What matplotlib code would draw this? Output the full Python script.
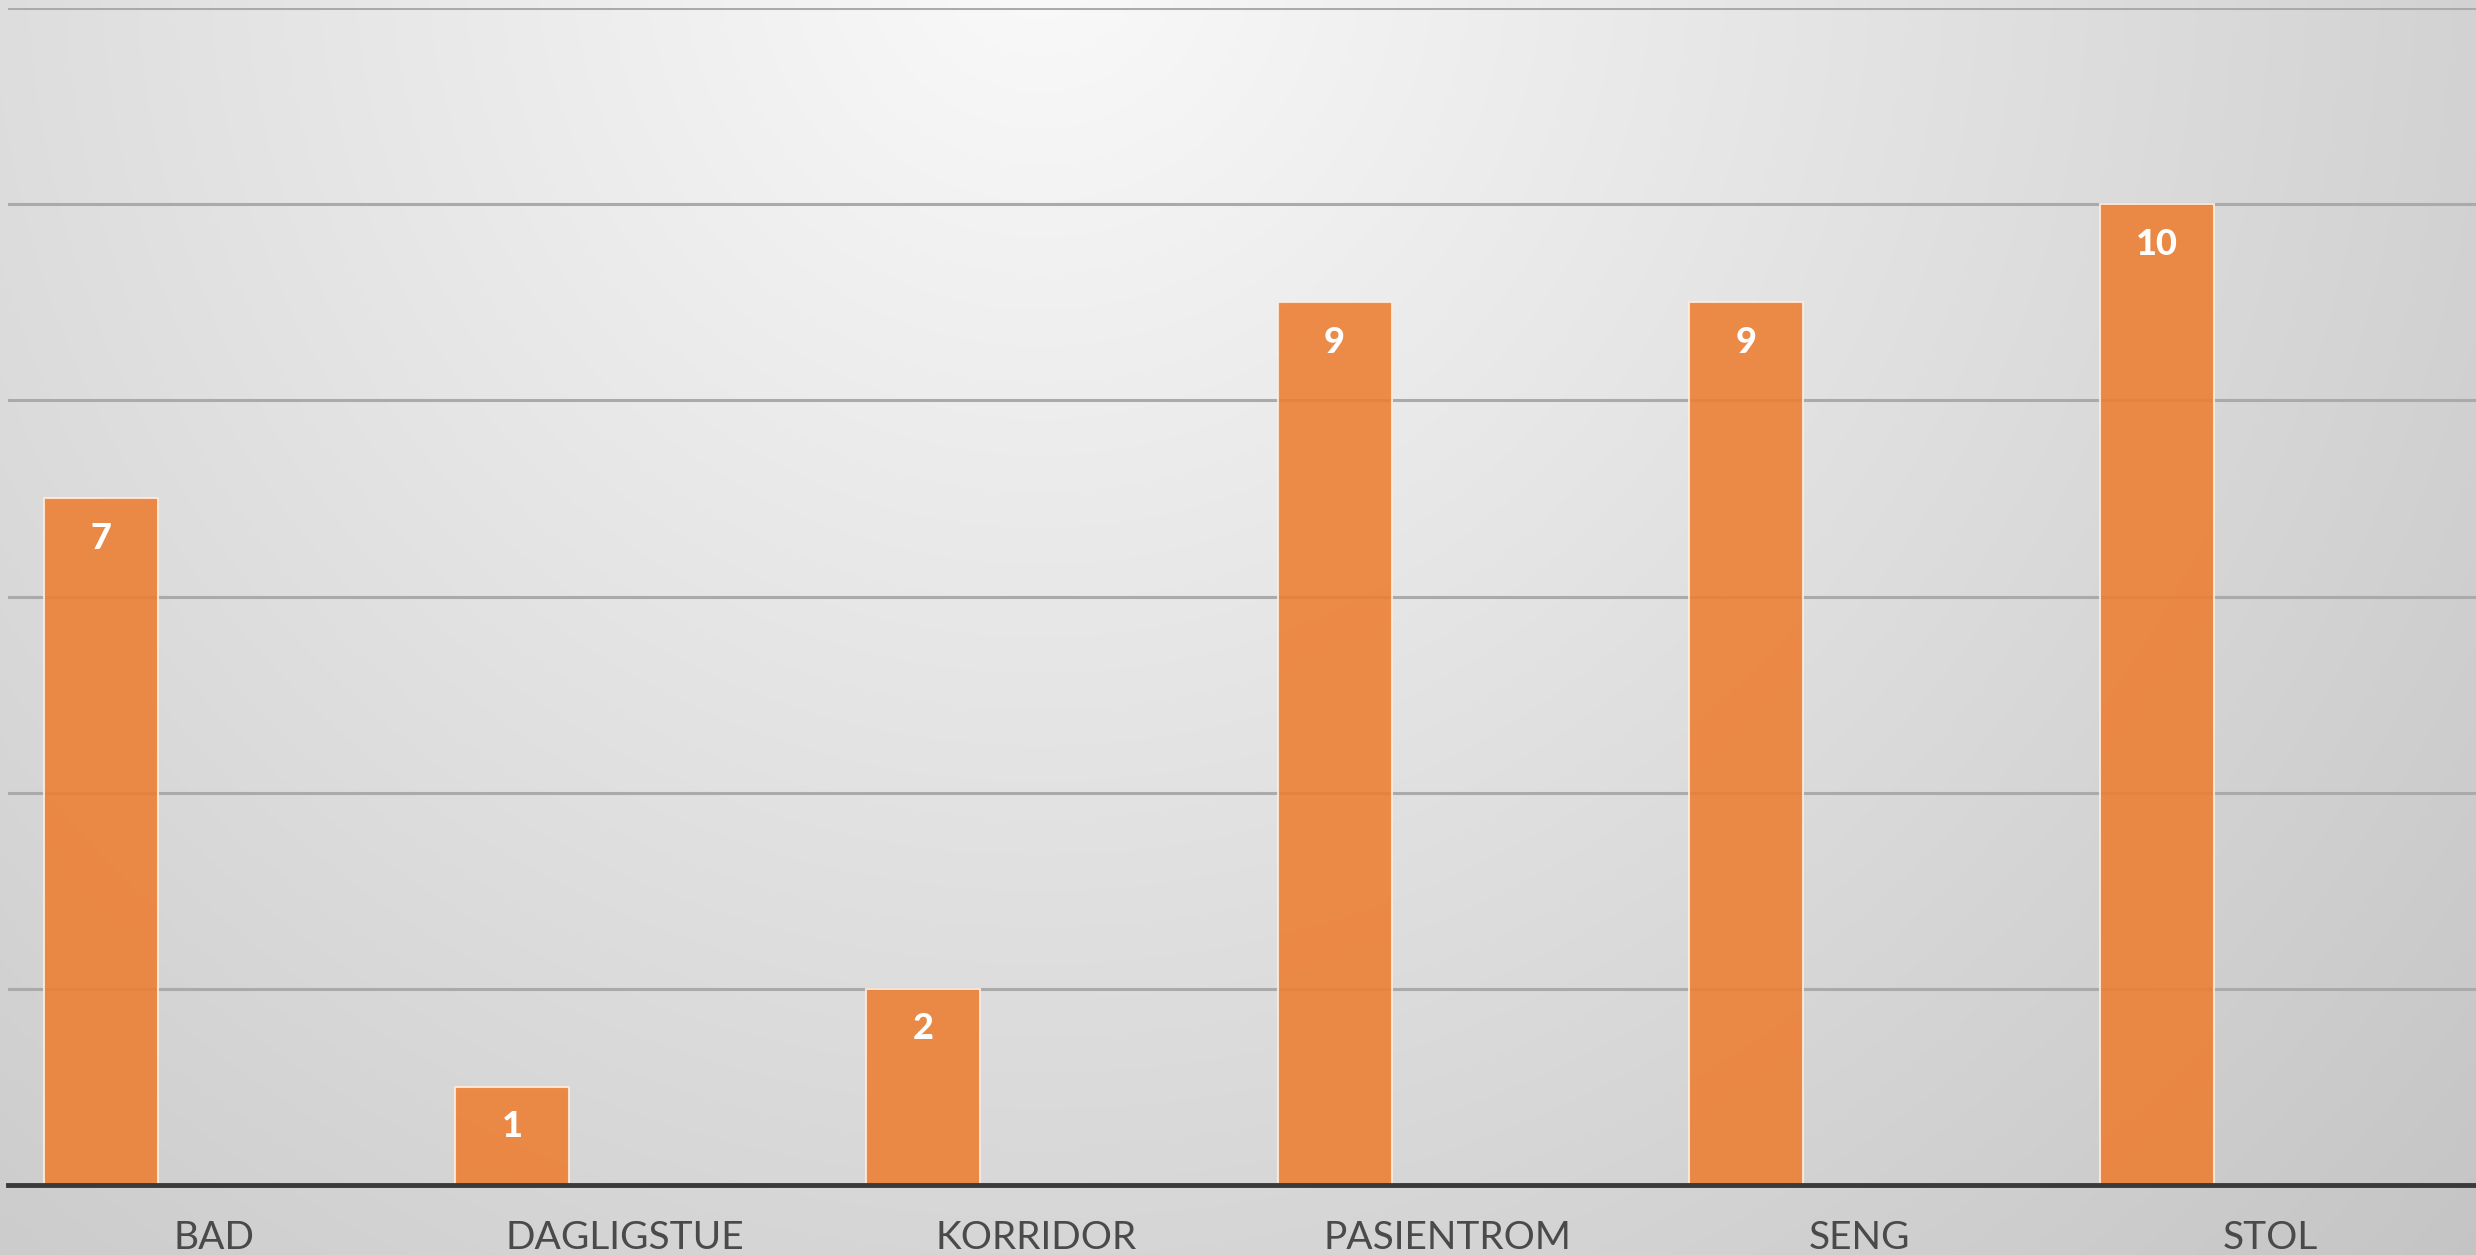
import numpy as np
import matplotlib
matplotlib.use("Agg")
import matplotlib.pyplot as plt

categories = ["BAD", "DAGLIGSTUE", "KORRIDOR", "PASIENTROM", "SENG", "STOL"]
values = [7, 1, 2, 9, 9, 10]
yticks = [0, 2, 4, 6, 8, 10, 12]

W, H = 2476, 1255
fig = plt.figure(figsize=(W / 100, H / 100), dpi=100)

# background radial gradient
bg = fig.add_axes([0, 0, 1, 1], zorder=-10)
yy, xx = np.mgrid[0:H, 0:W]
d = np.sqrt((xx - 1040) ** 2 + (yy + 50) ** 2)
g = np.clip(0.98 - d * 0.000108, 0, 1)
bg.imshow(np.dstack([g, g, g]), aspect="auto", extent=[0, 1, 0, 1], origin="upper")
bg.axis("off")

ax = fig.add_axes([8 / W, 1 - 1185 / H, 1 - 8 / W, (1185 - 8) / H])
ax.patch.set_alpha(0)
x = np.arange(len(categories))
bw = 0.277
off = -0.275
bars = ax.bar(x + off, values, width=bw, color="#ED7D31", alpha=0.88,
              edgecolor=(1, 0.93, 0.87, 0.8), linewidth=1.5, zorder=3)
for xi, v in zip(x, values):
    ax.annotate(str(v), (xi + off, v), xytext=(0, -40), textcoords="offset pixels",
                ha="center", va="center", color="white", fontsize=26,
                fontweight="black", family=["Lato", "DejaVu Sans"], zorder=4)

ax.set_xlim(-0.5, len(categories) - 0.5)
ax.set_ylim(0, 12)
ax.set_yticks(yticks)
ax.yaxis.grid(True, color="#aaaaaa", linewidth=2.2, zorder=1)
ax.set_axisbelow(True)
ax.tick_params(axis="y", left=False, labelleft=False)
ax.set_xticks(x)
ax.set_xticklabels(categories, fontsize=28, color="#4a4a4a", family=["Lato", "DejaVu Sans"])
ax.tick_params(axis="x", length=0, pad=25)
for s in ["top", "right", "left"]:
    ax.spines[s].set_visible(False)
ax.spines["bottom"].set_color("#3a3a3a")
ax.spines["bottom"].set_linewidth(3.5)
ax.spines["bottom"].set_zorder(5)

fig.savefig("out.png", dpi=100)
